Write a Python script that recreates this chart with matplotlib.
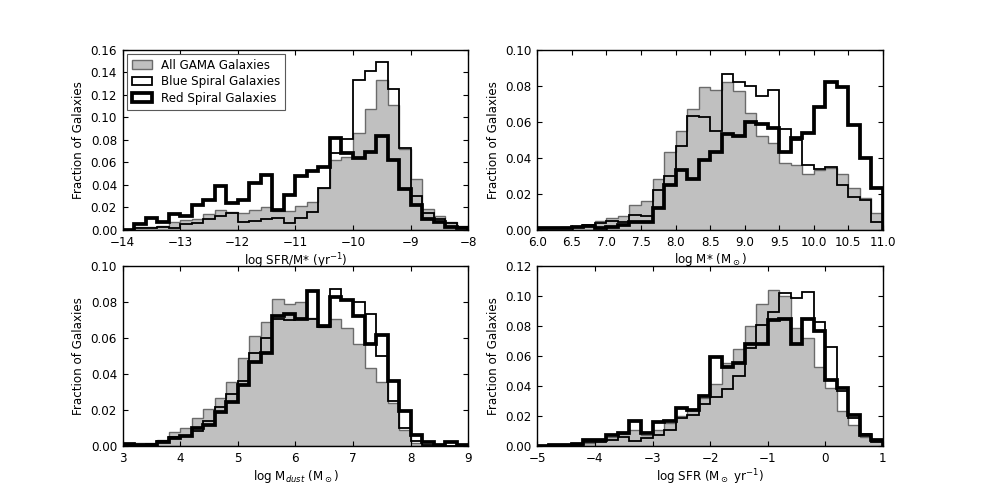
import numpy as np
import matplotlib
matplotlib.use("Agg")
import matplotlib.pyplot as plt
from matplotlib.ticker import MultipleLocator, FormatStrFormatter

# bin fractions (30 bins per panel)
ssfr_range = (-14, -8)
gray_ssfr = [0.000, 0.003, 0.003, 0.0035, 0.007, 0.009, 0.0095, 0.014, 0.018, 0.016,
             0.015, 0.018, 0.020, 0.017, 0.017, 0.021, 0.025, 0.037, 0.062, 0.065,
             0.086, 0.107, 0.133, 0.111, 0.072, 0.045, 0.019, 0.012, 0.0075, 0.0035]
blue_ssfr = [0.000, 0.0015, 0.0015, 0.003, 0.002, 0.005, 0.006, 0.0095, 0.0125, 0.015,
             0.0075, 0.008, 0.0095, 0.0105, 0.006, 0.0105, 0.016, 0.037, 0.068, 0.081,
             0.133, 0.141, 0.149, 0.125, 0.073, 0.030, 0.015, 0.010, 0.006, 0.0024]
red_ssfr = [0.000, 0.005, 0.011, 0.0075, 0.014, 0.0125, 0.022, 0.027, 0.039, 0.024,
            0.027, 0.042, 0.049, 0.018, 0.031, 0.048, 0.052, 0.056, 0.082, 0.068,
            0.064, 0.069, 0.083, 0.062, 0.036, 0.022, 0.010, 0.0075, 0.003, 0.0015]

mstar_range = (6, 11)
gray_mstar = [0.001, 0.0013, 0.0015, 0.002, 0.003, 0.005, 0.0065, 0.0075, 0.014, 0.016,
              0.028, 0.043, 0.055, 0.067, 0.079, 0.0775, 0.082, 0.077, 0.065, 0.052,
              0.048, 0.037, 0.036, 0.031, 0.033, 0.0345, 0.031, 0.023, 0.0177, 0.0093]
blue_mstar = [0.001, 0.001, 0.001, 0.0015, 0.0025, 0.0037, 0.005, 0.0045, 0.0085, 0.008,
              0.022, 0.030, 0.0465, 0.063, 0.0626, 0.055, 0.0865, 0.082, 0.080, 0.074,
              0.0775, 0.056, 0.050, 0.036, 0.034, 0.035, 0.025, 0.018, 0.0167, 0.0046]
red_mstar = [0.001, 0.0013, 0.0013, 0.0015, 0.002, 0.001, 0.0015, 0.003, 0.0045, 0.0045,
             0.012, 0.025, 0.0335, 0.028, 0.039, 0.043, 0.053, 0.052, 0.060, 0.0585,
             0.0563, 0.043, 0.051, 0.054, 0.068, 0.082, 0.079, 0.058, 0.040, 0.023]

mdust_range = (3, 9)
gray_mdust = [0.001, 0.002, 0.002, 0.0037, 0.008, 0.010, 0.0155, 0.021, 0.027, 0.0357,
              0.049, 0.061, 0.069, 0.082, 0.079, 0.080, 0.071, 0.066, 0.0706, 0.0656,
              0.057, 0.0437, 0.0359, 0.024, 0.009, 0.002, 0.0005, 0.0005, 0.0003, 0.0003]
blue_mdust = [0.001, 0.001, 0.0015, 0.003, 0.005, 0.006, 0.0085, 0.014, 0.022, 0.029,
              0.036, 0.052, 0.060, 0.0706, 0.070, 0.0706, 0.0706, 0.066, 0.0875, 0.081,
              0.080, 0.0735, 0.050, 0.025, 0.010, 0.003, 0.001, 0.0005, 0.0, 0.0]
red_mdust = [0.0015, 0.001, 0.001, 0.0025, 0.0045, 0.006, 0.010, 0.012, 0.019, 0.0245,
             0.034, 0.047, 0.052, 0.0725, 0.0735, 0.0706, 0.086, 0.067, 0.083, 0.081,
             0.0725, 0.057, 0.062, 0.036, 0.0195, 0.0065, 0.0025, 0.001, 0.0025, 0.0005]

sfr_range = (-5, 1)
gray_sfr = [0.0005, 0.001, 0.0015, 0.002, 0.0025, 0.004, 0.006, 0.008, 0.011, 0.0075,
            0.011, 0.0155, 0.020, 0.024, 0.032, 0.0416, 0.0555, 0.065, 0.080, 0.095,
            0.104, 0.100, 0.079, 0.072, 0.053, 0.039, 0.0238, 0.014, 0.006, 0.0033]
blue_sfr = [0.0005, 0.001, 0.001, 0.001, 0.003, 0.003, 0.0045, 0.006, 0.0035, 0.0055,
            0.0075, 0.011, 0.019, 0.021, 0.028, 0.033, 0.038, 0.047, 0.0655, 0.081,
            0.0895, 0.102, 0.099, 0.103, 0.083, 0.066, 0.037, 0.019, 0.008, 0.003]
red_sfr = [0.0005, 0.001, 0.001, 0.0015, 0.0045, 0.0045, 0.0075, 0.009, 0.0167, 0.0087,
           0.016, 0.017, 0.0255, 0.024, 0.0333, 0.0593, 0.053, 0.0555, 0.068, 0.068,
           0.084, 0.085, 0.068, 0.085, 0.077, 0.0445, 0.039, 0.0207, 0.0073, 0.004]

labels = ["All GAMA Galaxies", "Blue Spiral Galaxies", "Red Spiral Galaxies"]

panels = [
    (ssfr_range, gray_ssfr, blue_ssfr, red_ssfr, "log SFR/M* (yr$^{-1}$)", 0.16, 1.0),
    (mstar_range, gray_mstar, blue_mstar, red_mstar, "log M* (M$_\\odot$)", 0.10, 0.5),
    (mdust_range, gray_mdust, blue_mdust, red_mdust, "log M$_{dust}$ (M$_\\odot$)", 0.10, 1.0),
    (sfr_range, gray_sfr, blue_sfr, red_sfr, "log SFR (M$_\\odot$ yr$^{-1}$)", 0.12, 1.0),
]

plt.rcParams["font.size"] = 8.6
plt.rcParams["axes.linewidth"] = 1.0

fig, axes = plt.subplots(2, 2, figsize=(9.81, 4.96), dpi=100)
fig.subplots_adjust(left=0.125, right=0.9, bottom=0.1, top=0.9, wspace=0.2, hspace=0.2)

for ax, (rng, gray, blue, red, xlabel, ymax, xstep) in zip(axes.flat, panels):
    edges = np.linspace(rng[0], rng[1], len(gray) + 1)
    centers = 0.5 * (edges[:-1] + edges[1:])
    ax.hist(centers, bins=edges, weights=gray, histtype="stepfilled",
            facecolor="#c0c0c0", edgecolor="0.42", linewidth=1.0, label=labels[0])
    ax.hist(centers, bins=edges, weights=blue, histtype="step",
            color="black", linewidth=1.3, label=labels[1])
    ax.hist(centers, bins=edges, weights=red, histtype="step",
            color="black", linewidth=2.7, label=labels[2])
    ax.set_xlim(rng)
    ax.set_ylim(0, ymax)
    ax.xaxis.set_major_locator(MultipleLocator(xstep))
    ax.yaxis.set_major_locator(MultipleLocator(0.02))
    ax.yaxis.set_major_formatter(FormatStrFormatter("%.2f"))
    ax.tick_params(direction="in", top=True, right=True, length=3.6, width=0.8,
                   labelsize=8.6, pad=4)
    ax.set_xlabel(xlabel, fontsize=8.6, labelpad=2)
    ax.set_ylabel("Fraction of Galaxies", fontsize=8.6)

leg = axes[0, 0].legend(loc="upper left", fancybox=False, framealpha=1,
                        edgecolor="0.35", fontsize=8.6, labelspacing=0.3,
                        handlelength=1.7, borderaxespad=0.35)
leg.get_frame().set_linewidth(0.8)

fig.savefig("out.png", dpi=100)
